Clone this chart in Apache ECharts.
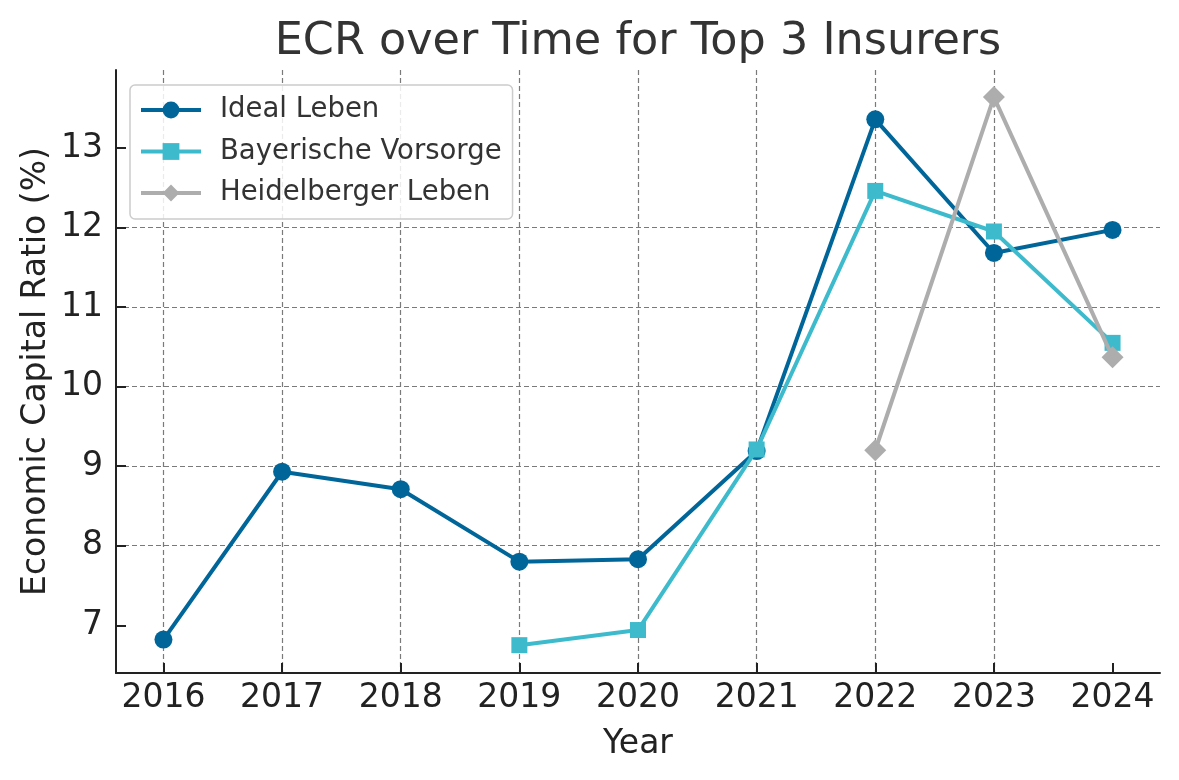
<!DOCTYPE html>
<html>
<head>
<meta charset="utf-8">
<script src="https://cdn.jsdelivr.net/npm/echarts@6/dist/echarts.min.js"></script>
<style>
html,body{margin:0;padding:0;background:#fff;}
#chart{width:1179px;height:780px;}
</style>
</head>
<body>
<div id="chart"></div>
<script>
const years = [2016, 2017, 2018, 2019, 2020, 2021, 2022, 2023, 2024];
const idealLeben = [6.82, 8.93, 8.71, 7.80, 7.83, 9.19, 13.36, 11.68, 11.97];
const bayerischeVorsorge = [null, null, null, 6.75, 6.94, 9.21, 12.46, 11.95, 10.55];
const heidelbergerLeben = [null, null, null, null, null, null, 9.20, 13.64, 10.37];
const yTicks = [7, 8, 9, 10, 11, 12, 13];
const seriesNames = ['Ideal Leben', 'Bayerische Vorsorge', 'Heidelberger Leben'];

const FONT = 'DejaVu Sans';
const pair = arr => years.map((y, i) => [y, arr[i]]).filter(p => p[1] !== null);

const chart = echarts.init(document.getElementById('chart'), null, {renderer: 'canvas'});
const option = {
  animation: false,
  backgroundColor: '#ffffff',
  title: {
    text: 'ECR over Time for Top 3 Insurers',
    left: 633,
    top: 15,
    textAlign: 'center',
    textStyle: {fontFamily: FONT, fontSize: 44.5, fontWeight: 'normal', color: '#333333'}
  },
  legend: {
    orient: 'vertical',
    left: 130,
    top: 85,
    padding: [10, 11, 11, 9],
    itemGap: 11.5,
    itemWidth: 60,
    itemHeight: 21,
    borderColor: '#cccccc',
    borderWidth: 1.5,
    borderRadius: 5,
    backgroundColor: 'rgba(255,255,255,0.85)',
    data: seriesNames,
    lineStyle: {width: 4},
    textStyle: {fontFamily: FONT, fontSize: 27.5, color: '#333333', lineHeight: 30, padding: [0, 0, 0, 14]}
  },
  grid: {left: 116, right: 19, top: 70, bottom: 107, containLabel: false},
  xAxis: {
    type: 'value',
    min: 2015.6,
    max: 2024.4,
    splitNumber: 9,
    name: 'Year',
    nameLocation: 'middle',
    nameGap: 55,
    nameMoveOverlap: false,
    nameTextStyle: {fontFamily: FONT, fontSize: 33, color: '#222222'},
    axisLine: {show: true, lineStyle: {color: '#222222', width: 2}},
    axisTick: {show: true, inside: true, length: 10, lineStyle: {color: '#222222', width: 2}, customValues: years},
    axisLabel: {fontFamily: FONT, fontSize: 33, color: '#222222', margin: 9, customValues: years, formatter: v => String(Math.round(v))},
    splitLine: {show: true, showMinLine: true, showMaxLine: false, lineStyle: {color: '#7a7a7a', width: 1.2, type: [5, 3]}}
  },
  yAxis: {
    type: 'value',
    min: 6.40,
    max: 13.98,
    splitNumber: 7,
    name: 'Economic Capital Ratio (%)',
    nameLocation: 'middle',
    nameGap: 63,
    nameMoveOverlap: false,
    nameTextStyle: {fontFamily: FONT, fontSize: 33, color: '#222222'},
    axisLine: {show: true, lineStyle: {color: '#222222', width: 2}},
    axisTick: {show: true, inside: true, length: 10, lineStyle: {color: '#222222', width: 2}, customValues: yTicks},
    axisLabel: {fontFamily: FONT, fontSize: 33, color: '#222222', margin: 13, customValues: yTicks, formatter: v => String(Math.round(v))},
    splitLine: {show: true, showMinLine: false, showMaxLine: false, lineStyle: {color: '#7a7a7a', width: 1.2, type: [5, 3]}}
  },
  series: [
    {
      name: seriesNames[0], type: 'line', z: 2,
      data: pair(idealLeben),
      symbol: 'circle', symbolSize: 18,
      itemStyle: {color: '#006699'},
      lineStyle: {color: '#006699', width: 4}
    },
    {
      name: seriesNames[1], type: 'line', z: 3,
      data: pair(bayerischeVorsorge),
      symbol: 'rect', symbolSize: 16,
      itemStyle: {color: '#3dbbcc'},
      lineStyle: {color: '#3dbbcc', width: 4}
    },
    {
      name: seriesNames[2], type: 'line', z: 4,
      data: pair(heidelbergerLeben),
      symbol: 'diamond', symbolSize: 22,
      itemStyle: {color: '#adadad'},
      lineStyle: {color: '#adadad', width: 4}
    }
  ]
};
chart.setOption(option);
</script>
</body>
</html>
